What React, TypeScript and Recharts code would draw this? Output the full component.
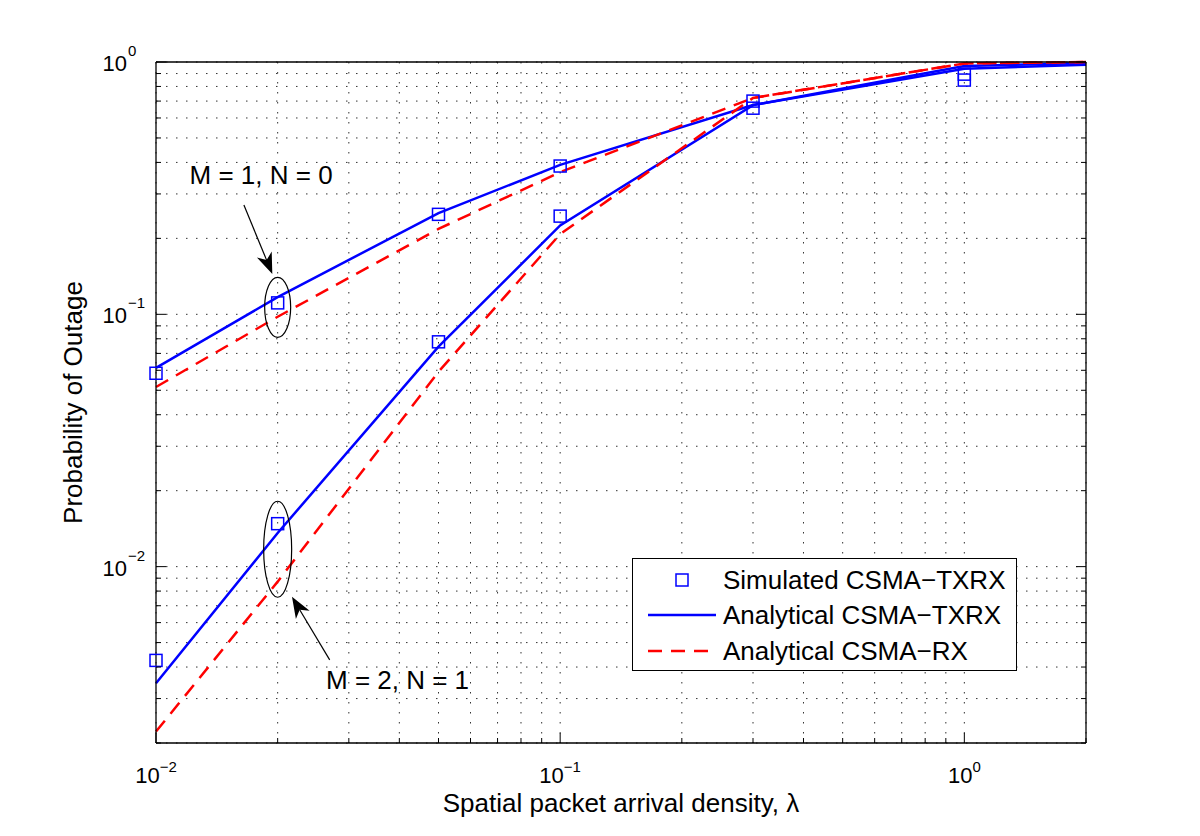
import React from "react";
import {
    ComposedChart,
    Line,
    Scatter,
    XAxis,
    YAxis,
    CartesianGrid,
    ReferenceDot,
    ReferenceLine,
} from "recharts";

// spatial packet arrival density (lambda) values
const lambda = [0.01, 0.02, 0.05, 0.1, 0.3, 1, 2];
const simLambda = [0.01, 0.02, 0.05, 0.1, 0.3, 1];

// probability of outage
const simTxrxM1 = [0.0584, 0.111, 0.249, 0.387, 0.656, 0.895];
const simTxrxM2 = [0.00425, 0.0148, 0.0778, 0.245, 0.7, 0.848];
const anaTxrxM1 = [0.0613, 0.117, 0.252, 0.391, 0.675, 0.94, 0.975];
const anaTxrxM2 = [0.00345, 0.0136, 0.0744, 0.225, 0.675, 0.965, 0.99];
const anaRxM1 = [0.0515, 0.0978, 0.218, 0.366, 0.72, 0.987, 1.0];
const anaRxM2 = [0.00222, 0.00872, 0.0592, 0.208, 0.72, 0.987, 1.0];

const xTicks = [
    0.01, 0.02, 0.03, 0.04, 0.05, 0.06, 0.07, 0.08, 0.09,
    0.1, 0.2, 0.3, 0.4, 0.5, 0.6, 0.7, 0.8, 0.9,
    1, 2,
];
const yTicks = [
    0.002, 0.003, 0.004, 0.005, 0.006, 0.007, 0.008, 0.009,
    0.01, 0.02, 0.03, 0.04, 0.05, 0.06, 0.07, 0.08, 0.09,
    0.1, 0.2, 0.3, 0.4, 0.5, 0.6, 0.7, 0.8, 0.9,
    1,
];

const BLUE = "#0000ff";
const RED = "#ff0000";
const FONT = "'Liberation Sans', Arial, Helvetica, sans-serif";

const toPoints = (xs: number[], ys: number[]) =>
    xs.map((x, i) => ({ x, y: ys[i] }));

const isDecade = (v: number) =>
    Math.abs(Math.log10(v) - Math.round(Math.log10(v))) < 1e-6;

const expText = (v: number) => {
    const e = Math.round(Math.log10(v));
    return e < 0 ? `\u2212${-e}` : `${e}`;
};

const BottomTick = ({ x, y, payload }: any) => {
    const v = payload.value;
    const major = isDecade(v);
    return (
        <g>
            <line x1={x} y1={y} x2={x} y2={y - (major ? 10 : 5)} stroke="#000" />
            {major && (
                <text x={x} y={y + 40} textAnchor="middle" fontSize={22} fill="#000">
                    10
                    <tspan dy={-11} fontSize={15}>
                        {expText(v)}
                    </tspan>
                </text>
            )}
        </g>
    );
};

const TopTick = ({ x, y, payload }: any) => {
    const major = isDecade(payload.value);
    return <line x1={x} y1={y} x2={x} y2={y + (major ? 10 : 5)} stroke="#000" />;
};

const LeftTick = ({ x, y, payload }: any) => {
    const v = payload.value;
    const major = isDecade(v);
    return (
        <g>
            <line x1={x} y1={y} x2={x + (major ? 10 : 5)} y2={y} stroke="#000" />
            {major && (
                <>
                    <text x={x - 29} y={y + 9} textAnchor="end" fontSize={22} fill="#000">
                        10
                    </text>
                    <text x={x - 28} y={y - 6} textAnchor="start" fontSize={15} fill="#000">
                        {expText(v)}
                    </text>
                </>
            )}
        </g>
    );
};

const RightTick = ({ x, y, payload }: any) => {
    const major = isDecade(payload.value);
    return <line x1={x} y1={y} x2={x - (major ? 10 : 5)} y2={y} stroke="#000" />;
};

const Square = ({ cx, cy }: any) => (
    <rect x={cx - 6} y={cy - 6} width={12} height={12} fill="none" stroke={BLUE} strokeWidth={1.5} />
);

const Arrow = ({ x1, y1, x2, y2 }: any) => {
    const dx = x2 - x1;
    const dy = y2 - y1;
    const len = Math.sqrt(dx * dx + dy * dy) || 1;
    const ux = dx / len;
    const uy = dy / len;
    const L = 21;
    const W = 8;
    const bx = x2 - ux * L;
    const by = y2 - uy * L;
    const nx = x2 - ux * (L - 6);
    const ny = y2 - uy * (L - 6);
    const pts = [
        [x2, y2],
        [bx - uy * W, by + ux * W],
        [nx, ny],
        [bx + uy * W, by - ux * W],
    ]
        .map((p) => p.join(","))
        .join(" ");
    return (
        <g>
            <line x1={x1} y1={y1} x2={nx} y2={ny} stroke="#000" strokeWidth={1.2} />
            <polygon points={pts} fill="#000" />
        </g>
    );
};

const ellipseShape = (rx: number, ry: number) => ({ cx, cy }: any) => (
    <ellipse cx={cx} cy={cy} rx={rx} ry={ry} fill="none" stroke="#000" strokeWidth={1.2} />
);

const textShape = (label: string) => ({ cx, cy }: any) => (
    <text x={cx} y={cy} textAnchor="middle" dominantBaseline="central" fontSize={26} fill="#000">
        {label}
    </text>
);

const XLabel = ({ viewBox }: any) => (
    <text
        x={viewBox.x + viewBox.width / 2}
        y={viewBox.y + 69}
        textAnchor="middle"
        fontSize={26}
        fill="#000"
    >
        Spatial packet arrival density, λ
    </text>
);

const YLabel = ({ viewBox }: any) => {
    const x = viewBox.x + viewBox.width - 74;
    const y = viewBox.y + viewBox.height / 2;
    return (
        <text
            x={x}
            y={y}
            transform={`rotate(-90 ${x} ${y})`}
            textAnchor="middle"
            fontSize={26}
            fill="#000"
        >
            Probability of Outage
        </text>
    );
};

const LegendBox = () => {
    const rows = [
        {
            label: "Simulated CSMA\u2212TXRX",
            icon: <rect x={43} y={12} width={12} height={12} fill="none" stroke={BLUE} strokeWidth={1.5} />,
        },
        {
            label: "Analytical CSMA\u2212TXRX",
            icon: <line x1={15} y1={18} x2={83} y2={18} stroke={BLUE} strokeWidth={2.5} />,
        },
        {
            label: "Analytical CSMA\u2212RX",
            icon: (
                <line x1={15} y1={18} x2={83} y2={18} stroke={RED} strokeWidth={2.5} strokeDasharray="14 9" />
            ),
        },
    ];
    return (
        <div
            style={{
                position: "absolute",
                left: 632,
                top: 558,
                width: 385,
                height: 113,
                boxSizing: "border-box",
                border: "1px solid #000",
                background: "#fff",
                paddingTop: 3,
                fontFamily: FONT,
                fontSize: 26,
                color: "#000",
            }}
        >
            {rows.map((r) => (
                <div key={r.label} style={{ display: "flex", alignItems: "center", height: 35.5 }}>
                    <svg width={90} height={36} style={{ flex: "none" }}>
                        {r.icon}
                    </svg>
                    <span style={{ lineHeight: 1, whiteSpace: "nowrap" }}>{r.label}</span>
                </div>
            ))}
        </div>
    );
};

export default function App() {
    const axisCommon = {
        type: "number" as const,
        scale: "log" as const,
        interval: 0 as const,
        tickLine: false,
        tickSize: 0,
        tickMargin: 0,
        stroke: "#000",
        strokeWidth: 1.3,
    };

    return (
        <div
            style={{
                position: "relative",
                width: 1200,
                height: 836,
                margin: "-8px 0 0 -8px",
                background: "#fff",
                fontFamily: FONT,
            }}
        >
            <ComposedChart
                width={1200}
                height={836}
                margin={{ top: 61, right: 113, bottom: 92, left: 155 }}
            >
                <CartesianGrid stroke="#333" strokeDasharray="1.5 8.5" />
                <XAxis
                    {...axisCommon}
                    dataKey="x"
                    domain={[0.01, 2]}
                    ticks={xTicks}
                    height={1}
                    tick={<BottomTick />}
                    label={XLabel}
                />
                <XAxis
                    {...axisCommon}
                    xAxisId="top"
                    orientation="top"
                    domain={[0.01, 2]}
                    allowDataOverflow
                    ticks={xTicks}
                    height={1}
                    tick={<TopTick />}
                />
                <YAxis
                    {...axisCommon}
                    domain={[0.002, 1]}
                    ticks={yTicks}
                    width={1}
                    tick={<LeftTick />}
                    label={YLabel}
                />
                <YAxis
                    {...axisCommon}
                    yAxisId="right"
                    orientation="right"
                    domain={[0.002, 1]}
                    allowDataOverflow
                    ticks={yTicks}
                    width={1}
                    tick={<RightTick />}
                />

                <Scatter data={toPoints(simLambda, simTxrxM1)} dataKey="y" shape={<Square />} isAnimationActive={false} />
                <Scatter data={toPoints(simLambda, simTxrxM2)} dataKey="y" shape={<Square />} isAnimationActive={false} />

                <Line data={toPoints(lambda, anaTxrxM1)} dataKey="y" type="linear" stroke={BLUE} strokeWidth={2.5} dot={false} isAnimationActive={false} />
                <Line data={toPoints(lambda, anaTxrxM2)} dataKey="y" type="linear" stroke={BLUE} strokeWidth={2.5} dot={false} isAnimationActive={false} />
                <Line data={toPoints(lambda, anaRxM1)} dataKey="y" type="linear" stroke={RED} strokeWidth={2.5} strokeDasharray="14 9" dot={false} isAnimationActive={false} />
                <Line data={toPoints(lambda, anaRxM2)} dataKey="y" type="linear" stroke={RED} strokeWidth={2.5} strokeDasharray="14 9" dot={false} isAnimationActive={false} />

                <ReferenceDot x={0.02} y={0.1066} r={0} shape={ellipseShape(13, 30)} />
                <ReferenceDot x={0.02} y={0.01172} r={0} shape={ellipseShape(14, 48)} />
                <ReferenceDot x={0.0182} y={0.356} r={0} shape={textShape("M = 1, N = 0")} />
                <ReferenceDot x={0.0396} y={0.00356} r={0} shape={textShape("M = 2, N = 1")} />
                <ReferenceLine
                    segment={[
                        { x: 0.0165, y: 0.271 },
                        { x: 0.0194, y: 0.1445 },
                    ]}
                    shape={Arrow}
                />
                <ReferenceLine
                    segment={[
                        { x: 0.0269, y: 0.00427 },
                        { x: 0.0217, y: 0.00759 },
                    ]}
                    shape={Arrow}
                />
            </ComposedChart>
            <LegendBox />
        </div>
    );
}
